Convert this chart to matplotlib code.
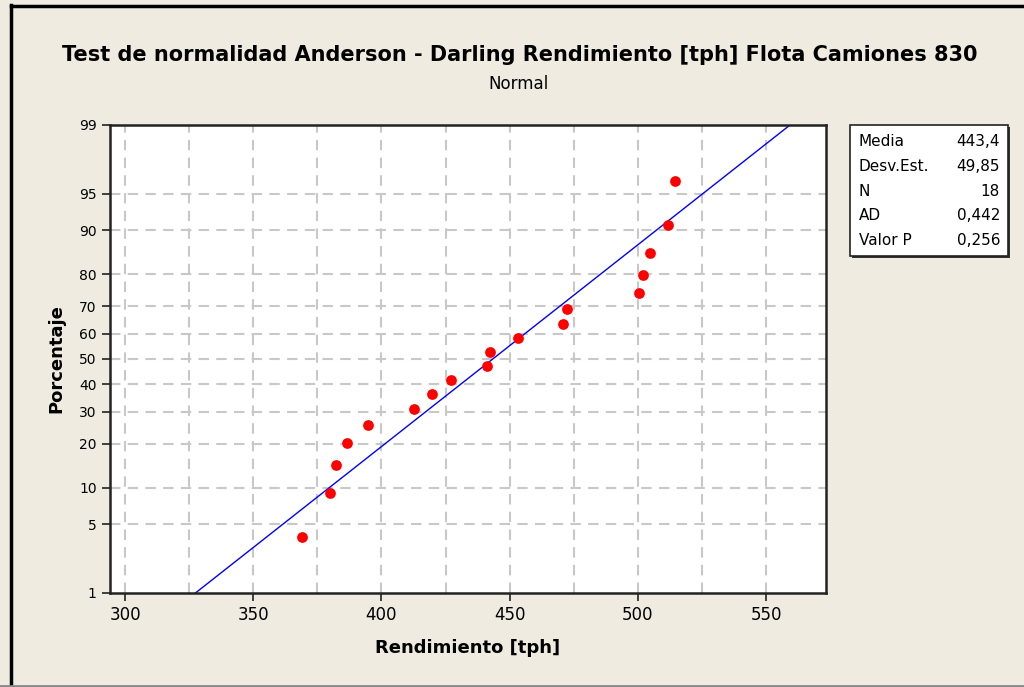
import numpy as np
import matplotlib
matplotlib.use("Agg")
import matplotlib.pyplot as plt
from matplotlib.patches import Rectangle
from matplotlib.lines import Line2D
from statistics import NormalDist

# Data
rendimiento = [369.1, 380.0, 382.3, 386.5, 394.7, 412.6, 419.6, 427.1, 441.1,
               442.4, 453.4, 470.7, 472.3, 500.5, 502.0, 504.8, 511.7, 514.5]
porcentaje = [3.8, 9.2, 14.7, 20.1, 25.5, 31.0, 36.4, 41.8, 47.3,
              52.7, 58.2, 63.6, 69.0, 74.5, 79.9, 85.3, 90.8, 96.2]
media = 443.4
desv = 49.85

stat_names = ["Media", "Desv.Est.", "N", "AD", "Valor P"]
stat_values = ["443,4", "49,85", "18", "0,442", "0,256"]

y_ticks = [1, 5, 10, 20, 30, 40, 50, 60, 70, 80, 90, 95, 99]
x_ticks = [300, 350, 400, 450, 500, 550]
x_grid = [300, 325, 350, 375, 400, 425, 450, 475, 500, 525, 550]

bg = "#EFEBE0"
nd = NormalDist()
_ppf = np.vectorize(nd.inv_cdf, otypes=[float])
_cdf = np.vectorize(nd.cdf, otypes=[float])


def fwd(p):
    p = np.clip(np.asarray(p, dtype=float), 1e-6, 100 - 1e-6) / 100.0
    return _ppf(p)


def inv(z):
    return _cdf(np.asarray(z, dtype=float)) * 100.0


fig = plt.figure(figsize=(10.24, 6.87), dpi=100, facecolor=bg)
ax = fig.add_axes([110 / 1024, 1 - 593 / 687, 716 / 1024, 468 / 687])
ax.set_facecolor("white")
ax.set_yscale("function", functions=(fwd, inv))
ax.set_ylim(1, 99)
ax.set_xlim(294.1, 573.4)

# grid
for xv in x_grid:
    ax.axvline(xv, color="#C8C8C8", lw=1.5, ls=(0, (5, 3.5)), zorder=0)
for yv in y_ticks[1:-1]:
    ax.axhline(yv, color="#C8C8C8", lw=1.5, ls=(0, (5, 3.5)), zorder=0)

# fitted line
p_line = np.array([1.0, 99.0])
x_line = media + desv * fwd(p_line)
ax.plot(x_line, p_line, color="#0000FF", lw=1, zorder=2)

ax.scatter(rendimiento, porcentaje, s=60, color="#FF0000", zorder=3,
           linewidths=0)

ax.set_xticks(x_ticks)
ax.set_xticklabels([str(v) for v in x_ticks], fontsize=12)
ax.set_yticks(y_ticks)
ax.set_yticklabels([str(v) for v in y_ticks], fontsize=10)
ax.minorticks_off()
ax.tick_params(direction="out", length=6, width=1.2, color="#222222")
for s in ax.spines.values():
    s.set_color("#222222")
    s.set_linewidth(1.8)

ax.set_xlabel("Rendimiento [tph]", fontsize=13, fontweight="bold", labelpad=11)
ax.set_ylabel("Porcentaje", fontsize=13, fontweight="bold", labelpad=10)

fig.text(520 / 1024, 1 - 55 / 687,
         "Test de normalidad Anderson - Darling Rendimiento [tph] Flota Camiones 830",
         ha="center", va="center", fontsize=15, fontweight="bold")
fig.text(518 / 1024, 1 - 84 / 687, "Normal", ha="center", va="center",
         fontsize=12)

# stats box
bx0, by0, bw, bh = 850, 125, 158, 131
fig.patches.append(Rectangle(((bx0 + 2) / 1024, 1 - (by0 + bh + 2) / 687),
                             bw / 1024, bh / 687, transform=fig.transFigure,
                             facecolor="#333333", edgecolor="none", zorder=1))
fig.patches.append(Rectangle((bx0 / 1024, 1 - (by0 + bh) / 687),
                             bw / 1024, bh / 687, transform=fig.transFigure,
                             facecolor="white", edgecolor="#222222", lw=1.2,
                             zorder=2))
for i, (nm, vl) in enumerate(zip(stat_names, stat_values)):
    yy = 1 - (142 + i * 24.6) / 687
    fig.text(859 / 1024, yy, nm, ha="left", va="center", fontsize=11, zorder=3)
    fig.text(1000 / 1024, yy, vl, ha="right", va="center", fontsize=11, zorder=3)

# window frame
fig.lines.append(Line2D([11 / 1024, 11 / 1024], [0, 1 - 5 / 687],
                        transform=fig.transFigure, color="black", lw=2.5))
fig.lines.append(Line2D([11 / 1024, 1], [1 - 6 / 687, 1 - 6 / 687],
                        transform=fig.transFigure, color="black", lw=2.5))
fig.lines.append(Line2D([0, 1], [1 - 686 / 687, 1 - 686 / 687],
                        transform=fig.transFigure, color="#888888", lw=2))

fig.savefig("out.png", dpi=100, facecolor=bg)
